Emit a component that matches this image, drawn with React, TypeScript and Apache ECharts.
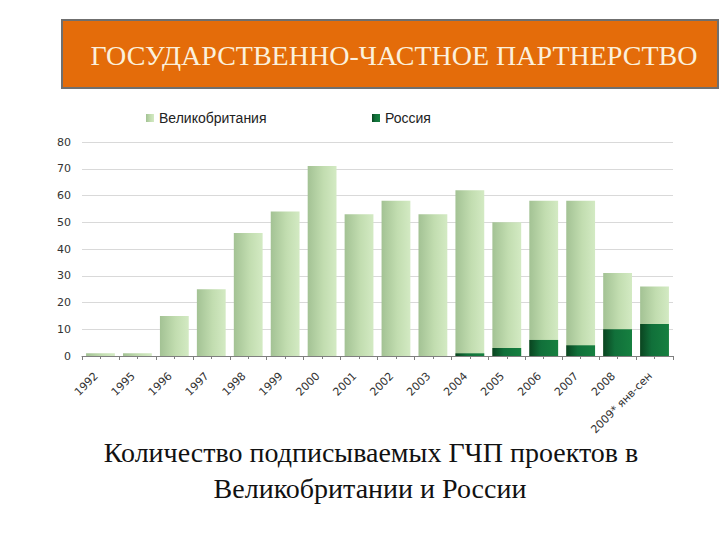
import React, { useEffect, useRef } from "react";
import * as echarts from "echarts";

const categories = ["1992", "1995", "1996", "1997", "1998", "1999", "2000", "2001", "2002", "2003", "2004", "2005", "2006", "2007", "2008", "2009* янв-сен"];
const ukValues = [1, 1, 15, 25, 46, 54, 71, 53, 58, 53, 62, 50, 58, 58, 31, 26];
const ruValues = [0, 0, 0, 0, 0, 0, 0, 0, 0, 0, 1, 3, 6, 4, 10, 12];
const yTicks = { min: 0, max: 80, interval: 10 };
const headerText = "ГОСУДАРСТВЕННО-ЧАСТНОЕ ПАРТНЕРСТВО";
const captionLines = ["Количество подписываемых ГЧП проектов в", "Великобритании и России"];

export default function App() {
  const ref = useRef<HTMLDivElement>(null);
  useEffect(() => {
    if (!ref.current) return;
    const chart = echarts.init(ref.current, undefined, { renderer: "svg" });
    const ukColor = new echarts.graphic.LinearGradient(0, 0, 1, 0, [
      { offset: 0, color: "#a3c294" },
      { offset: 0.55, color: "#c2ddb0" },
      { offset: 1, color: "#d3eac3" },
    ]);
    const ruColor = new echarts.graphic.LinearGradient(0, 0, 1, 0, [
      { offset: 0, color: "#0a4420" },
      { offset: 0.4, color: "#11703a" },
      { offset: 1, color: "#168040" },
    ]);
    chart.setOption({
      animation: false,
      backgroundColor: "#ffffff",
      grid: { left: 82, right: 47, top: 142, bottom: 184, containLabel: false },
      legend: [
        {
          data: ["Великобритания"],
          left: 141,
          top: 106,
          itemWidth: 8,
          itemHeight: 8,
          icon: "rect",
          itemGap: 6,
          textStyle: { fontFamily: "Liberation Sans", fontSize: 14, color: "#222" },
        },
        {
          data: ["Россия"],
          left: 367,
          top: 106,
          itemWidth: 8,
          itemHeight: 8,
          icon: "rect",
          textStyle: { fontFamily: "Liberation Sans", fontSize: 14, color: "#222" },
        },
      ],
      xAxis: [
        {
          type: "category",
          data: categories,
          position: "bottom",
          axisLine: { lineStyle: { color: "#7f7f7f" } },
          axisTick: { show: true, lineStyle: { color: "#7f7f7f" }, length: 4 },
          axisLabel: {
            rotate: 45,
            fontFamily: "DejaVu Sans",
            fontSize: 11,
            color: "#333",
            margin: 14,
            padding: [0, 6, 0, 0],
            interval: 0,
          },
        },
        {
          type: "category",
          data: categories,
          position: "bottom",
          offset: 0,
          axisLine: { show: false },
          axisTick: { show: true, alignWithLabel: true, interval: 0, lineStyle: { color: "#7f7f7f" }, length: 3 },
          axisLabel: { show: false },
          splitLine: { show: false },
        },
      ],
      yAxis: {
        type: "value",
        min: yTicks.min,
        max: yTicks.max,
        interval: yTicks.interval,
        axisLine: { show: false },
        axisTick: { show: false },
        splitLine: { lineStyle: { color: "#d9d9d9" } },
        axisLabel: { fontFamily: "DejaVu Sans", fontSize: 11, color: "#333", margin: 11 },
      },
      series: [
        {
          name: "Великобритания",
          type: "bar",
          data: ukValues,
          barCategoryGap: "22%",
          barGap: "-100%",
          itemStyle: { color: ukColor },
        },
        {
          name: "Россия",
          type: "bar",
          data: ruValues,
          barCategoryGap: "22%",
          barGap: "-100%",
          itemStyle: { color: ruColor },
        },
      ],
      graphic: [
        {
          type: "rect",
          shape: { x: 62, y: 20, width: 656, height: 68 },
          style: { fill: "#e46c0a", stroke: "#6f6f6f", lineWidth: 2 },
          z: 10,
        },
        {
          type: "text",
          x: 394,
          y: 55,
          style: {
            text: headerText,
            fill: "#fbf0dc",
            font: "28px 'Liberation Serif'",
            align: "center",
            verticalAlign: "middle",
          },
          z: 11,
        },
        {
          type: "text",
          x: 371,
          y: 452,
          style: {
            text: captionLines[0],
            fill: "#111",
            font: "28px 'Liberation Serif'",
            align: "center",
            verticalAlign: "middle",
          },
        },
        {
          type: "text",
          x: 370,
          y: 488,
          style: {
            text: captionLines[1],
            fill: "#111",
            font: "28px 'Liberation Serif'",
            align: "center",
            verticalAlign: "middle",
          },
        },
      ],
    });
    return () => chart.dispose();
  }, []);
  return <div ref={ref} style={{ position: "absolute", left: 0, top: 0, width: 720, height: 540 }} />;
}
